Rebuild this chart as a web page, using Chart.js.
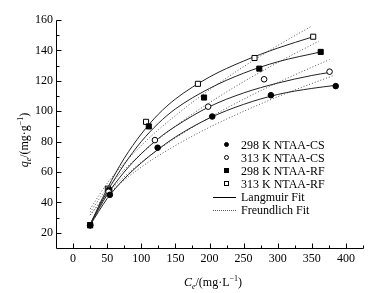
<!DOCTYPE html>
<html lang="en">
<head>
  <meta charset="UTF-8" />
  <title>Adsorption isotherms</title>
  <script src="https://cdn.jsdelivr.net/npm/chart.js"></script>
  <style>
    body { margin: 0; background: #fff; }
    #wrap { position: relative; width: 390px; height: 293px; }
    #legend { position: absolute; left: 0; top: 0; font-family: "Liberation Serif", serif; font-size: 12px; color: #000; }
    .row { position: absolute; left: 210px; height: 14px; line-height: 14px; white-space: nowrap; }
    .row span.t { position: absolute; left: 31px; top: 0; }
    .mk { position: absolute; box-sizing: border-box; width: 5px; height: 5px; left: 14px; top: 4px; border: 1px solid #000; }
    .ln { position: absolute; left: 3px; width: 23px; top: 7px; height: 0; }
  </style>
</head>
<body>
  <div id="wrap">
    <canvas id="myChart" width="390" height="293"></canvas>
    <div id="legend">
      <div class="row" style="top:138px"><i class="mk" style="background:#000;border-radius:50%"></i><span class="t">298 K NTAA-CS</span></div>
      <div class="row" style="top:151px"><i class="mk" style="background:#fff;border-radius:50%"></i><span class="t">313 K NTAA-CS</span></div>
      <div class="row" style="top:164px"><i class="mk" style="background:#000"></i><span class="t">298 K NTAA-RF</span></div>
      <div class="row" style="top:177px"><i class="mk" style="background:#fff"></i><span class="t">313 K NTAA-RF</span></div>
      <div class="row" style="top:190px"><i class="ln" style="border-top:1px solid #000"></i><span class="t">Langmuir Fit</span></div>
      <div class="row" style="top:203px"><i class="ln" style="border-top:1px dotted #555"></i><span class="t">Freundlich Fit</span></div>
    </div>
  </div>

  <script>
    // axis ticks
    const XTICKS = [0, 50, 100, 150, 200, 250, 300, 350, 400];
    const X_MINOR = [25, 75, 125, 175, 225, 275, 325, 375, 425];
    const YTICKS = [20, 40, 60, 80, 100, 120, 140, 160];
    const Y_MINOR = [30, 50, 70, 90, 110, 130, 150];

    // measured points
    const CS298_X = [25, 54, 124, 204, 290, 385];
    const CS298_Y = [25, 45, 76, 96.5, 110.5, 116.5];
    const CS313_X = [25, 52, 120, 198, 280, 376];
    const CS313_Y = [25, 47, 81, 103, 121, 126];
    const RF298_X = [25, 53, 111, 192, 273, 363];
    const RF298_Y = [25, 48, 90, 109, 128, 139];
    const RF313_X = [25, 51, 107, 183, 266, 352];
    const RF313_Y = [25, 49, 93, 118, 135, 149];

    // Langmuir fit curves
    const L_CS298_X = [25, 50, 75, 100, 125, 150, 200, 250, 300, 350, 385];
    const L_CS298_Y = [25, 42.5, 55.5, 66, 75, 83, 95.5, 104.5, 111, 115, 117];
    const L_CS313_X = [25, 50, 75, 100, 125, 150, 200, 250, 300, 350, 376];
    const L_CS313_Y = [25.5, 45, 60, 72, 82, 90, 103, 112, 118.5, 123.5, 125.5];
    const L_RF298_X = [25, 50, 75, 100, 125, 150, 200, 250, 300, 363];
    const L_RF298_Y = [25.5, 47, 65, 80, 92, 101.5, 115, 125, 132.5, 139];
    const L_RF313_X = [25, 50, 75, 100, 125, 150, 200, 250, 300, 352];
    const L_RF313_Y = [25.5, 49, 69, 85, 98, 108, 122.5, 133, 141.5, 149];

    // Freundlich fit curves
    const F_CS298_X = [25, 50, 100, 150, 200, 250, 300, 350, 382];
    const F_CS298_Y = [31.6, 44.7, 63.2, 77.4, 89.4, 99.9, 109.5, 118.2, 123.5];
    const F_CS313_X = [25, 50, 100, 150, 200, 250, 300, 350, 376];
    const F_CS313_Y = [31.8, 45.9, 66.4, 82.3, 95.8, 107.9, 118.8, 128.9, 134];
    const F_RF298_X = [25, 50, 100, 150, 200, 250, 300, 350, 360];
    const F_RF298_Y = [33.6, 49.3, 72.1, 90.2, 105.6, 119.4, 132, 143.7, 146];
    const F_RF313_X = [25, 50, 100, 150, 200, 250, 300, 350];
    const F_RF313_Y = [35.6, 52.5, 77.4, 97.1, 114.1, 129.3, 143.2, 156];

    const pts = (xs, ys) => xs.map((x, i) => ({ x: x, y: ys[i] }));
    const SERIF = '"Liberation Serif", serif';

    function marker(label, xs, ys, style, fill) {
      return {
        label: label,
        data: pts(xs, ys),
        showLine: false,
        pointStyle: style,
        pointRadius: style === 'rect' ? 3.6 : 2.8,
        pointBackgroundColor: fill,
        pointBorderColor: '#000',
        pointBorderWidth: 1,
        order: 0
      };
    }

    function fit(xs, ys, dotted) {
      return {
        data: pts(xs, ys),
        showLine: true,
        pointRadius: 0,
        borderColor: dotted ? '#555' : '#222',
        borderWidth: 1,
        borderDash: dotted ? [1, 2] : [],
        cubicInterpolationMode: 'monotone',
        order: 1
      };
    }

    // axis lines, in-pointing ticks and the mixed-style axis titles
    const axesPlugin = {
      id: 'axesPlugin',
      afterDraw(chart) {
        const ctx = chart.ctx;
        const x = chart.scales.x, y = chart.scales.y;
        const left = Math.round(chart.chartArea.left) + 0.5;
        const bottom = Math.round(chart.chartArea.bottom) + 0.5;
        const top = Math.round(y.getPixelForValue(160)) + 0.5;
        const right = Math.round(x.getPixelForValue(425)) + 0.5;
        ctx.save();
        ctx.strokeStyle = '#000';
        ctx.lineWidth = 1;
        ctx.beginPath();
        ctx.moveTo(left, top); ctx.lineTo(left, bottom); ctx.lineTo(right, bottom);
        XTICKS.forEach(v => { const p = Math.round(x.getPixelForValue(v)) + 0.5; ctx.moveTo(p, bottom); ctx.lineTo(p, bottom - 5); });
        X_MINOR.forEach(v => { const p = Math.round(x.getPixelForValue(v)) + 0.5; ctx.moveTo(p, bottom); ctx.lineTo(p, bottom - 3); });
        YTICKS.forEach(v => { const p = Math.round(y.getPixelForValue(v)) + 0.5; ctx.moveTo(left, p); ctx.lineTo(left + 5, p); });
        Y_MINOR.forEach(v => { const p = Math.round(y.getPixelForValue(v)) + 0.5; ctx.moveTo(left, p); ctx.lineTo(left + 3, p); });
        ctx.stroke();

        ctx.fillStyle = '#000';
        ctx.textBaseline = 'alphabetic';
        const parts = (sym) => [
          { t: sym, f: 'italic 12px ' + SERIF, dy: 0 },
          { t: 'e', f: 'italic 8px ' + SERIF, dy: 3 },
          { t: sym === 'C' ? '/(mg·L' : '/(mg·g', f: '12px ' + SERIF, dy: 0 },
          { t: '−1', f: '8px ' + SERIF, dy: -5 },
          { t: ')', f: '12px ' + SERIF, dy: 0 }
        ];
        const drawParts = (list, cx, base) => {
          let w = 0;
          list.forEach(p => { ctx.font = p.f; w += ctx.measureText(p.t).width; });
          let px = cx - w / 2;
          list.forEach(p => { ctx.font = p.f; ctx.fillText(p.t, px, base + p.dy); px += ctx.measureText(p.t).width; });
        };
        drawParts(parts('C'), 213, 286);
        ctx.translate(28, 140);
        ctx.rotate(-Math.PI / 2);
        drawParts(parts('q'), 0, 0);
        ctx.restore();
      }
    };

    const ctx = document.getElementById('myChart').getContext('2d');
    new Chart(ctx, {
      type: 'scatter',
      data: {
        datasets: [
          marker('298 K NTAA-CS', CS298_X, CS298_Y, 'circle', '#000'),
          marker('313 K NTAA-CS', CS313_X, CS313_Y, 'circle', '#fff'),
          marker('298 K NTAA-RF', RF298_X, RF298_Y, 'rect', '#000'),
          marker('313 K NTAA-RF', RF313_X, RF313_Y, 'rect', '#fff'),
          fit(L_CS298_X, L_CS298_Y, false),
          fit(L_CS313_X, L_CS313_Y, false),
          fit(L_RF298_X, L_RF298_Y, false),
          fit(L_RF313_X, L_RF313_Y, false),
          fit(F_CS298_X, F_CS298_Y, true),
          fit(F_CS313_X, F_CS313_Y, true),
          fit(F_RF298_X, F_RF298_Y, true),
          fit(F_RF313_X, F_RF313_Y, true)
        ]
      },
      options: {
        responsive: false,
        animation: false,
        layout: { padding: { left: 0, top: 20, right: 27, bottom: 0 } },
        scales: {
          x: {
            type: 'linear',
            min: -25,
            max: 425,
            grid: { display: false, drawTicks: false },
            border: { display: false },
            afterBuildTicks: s => { s.ticks = XTICKS.map(v => ({ value: v })); },
            afterFit: s => { s.height = 45; },
            ticks: { color: '#000', padding: 4, maxRotation: 0, autoSkip: false, font: { family: SERIF, size: 12 } }
          },
          y: {
            type: 'linear',
            min: 10,
            max: 160,
            grid: { display: false, drawTicks: false },
            border: { display: false },
            afterBuildTicks: s => { s.ticks = YTICKS.map(v => ({ value: v })); },
            afterFit: s => { s.width = 56; },
            ticks: { color: '#000', padding: 3, autoSkip: false, font: { family: SERIF, size: 12 } }
          }
        },
        plugins: {
          legend: { display: false },
          tooltip: { enabled: false }
        }
      },
      plugins: [axesPlugin]
    });
  </script>
</body>
</html>
